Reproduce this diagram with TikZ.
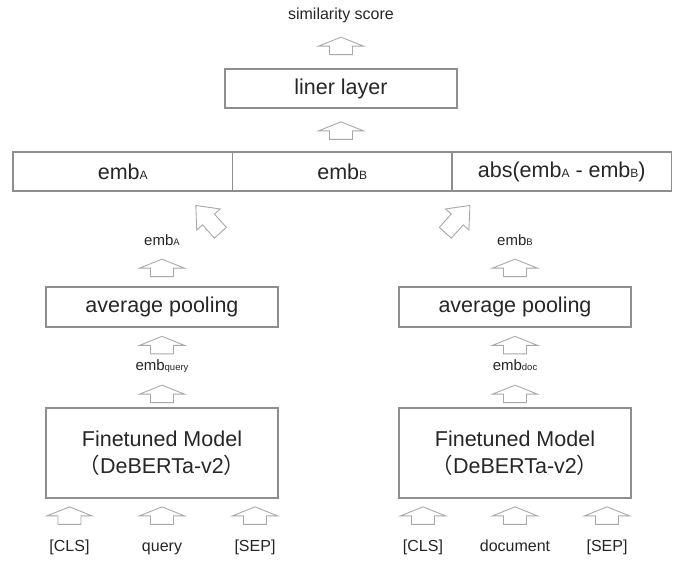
\documentclass[tikz,border=0pt]{standalone}
\usepackage{fontspec}
\setmainfont{Liberation Sans}
\newfontfamily\cjkfont{Noto Sans CJK JP}
\usepackage{tikz}
\usetikzlibrary{calc}
\definecolor{boxgray}{HTML}{8E8E8E}
\definecolor{arrgray}{HTML}{A8A8A8}
\definecolor{txtgray}{HTML}{262626}
\newcommand{\subA}[1]{{\fontsize{12}{12}\selectfont #1}}
\newcommand{\subB}[1]{{\fontsize{9.5}{9.5}\selectfont #1}}
\tikzset{
  box/.style={draw=boxgray, line width=1.2pt, minimum width=232pt, text=txtgray,
    font=\fontsize{21.5}{27}\selectfont, align=center, inner sep=0pt},
  cell/.style={draw=boxgray, line width=1.2pt, minimum width=219.5pt, minimum height=39pt,
    text=txtgray, font=\fontsize{21.5}{25}\selectfont, inner sep=0pt},
  lbl/.style={text=txtgray, font=\fontsize{16}{19}\selectfont, inner sep=0pt, anchor=base},
  emblbl/.style={text=txtgray, font=\fontsize{15}{18}\selectfont, inner sep=0pt, anchor=base},
  arrline/.style={draw=arrgray, line width=0.9pt, fill=white, line join=miter},
  uparr/.pic={\path[arrline] (0,-8.75) -- (22.5,0.25) -- (11.5,0.25) -- (11.5,8.75)
    -- (-11.5,8.75) -- (-11.5,0.25) -- (-22.5,0.25) -- cycle;}
}

\begin{document}
\begin{tikzpicture}[x=1pt, y=-1pt]
\useasboundingbox (0,0) rectangle (680,561);
% top part
\node[lbl] (score) at (341,20) {similarity score};
\node[box, minimum height=39pt] (liner) at (341,88.5) {liner layer};
\node[cell] (cellA) at (122.75,171.5) {emb\subA{A}};
\node[cell] (cellB) at (342.25,171.5) {emb\subA{B}};
\node[cell] (cellD) at (561.75,171.5) {abs(emb\subA{A} - emb\subA{B})};
\pic at ($(liner.north)+(0,-22.5)$) {uparr};
\pic at ($(liner.south)+(0,22)$) {uparr};

% left column (query)
\node[emblbl] (embA) at (162,246) {emb\subB{A}};
\node[box, minimum height=40pt] (poolA) at (162,307) {average pooling};
\node[emblbl] (embq) at (162,370) {emb\subB{query}};
\node[box, minimum height=90pt] (modelA) at (162,453) {Finetuned Model\\{\cjkfont （}DeBERTa-v2{\cjkfont ）}};
\node[lbl] (clsA) at (69.5,551) {[CLS]};
\node[lbl] (qry) at (162,551) {query};
\node[lbl] (sepA) at (255,551) {[SEP]};

% right column (document)
\node[emblbl] (embB) at (515,246) {emb\subB{B}};
\node[box, minimum height=40pt] (poolB) at (515,307) {average pooling};
\node[emblbl] (embd) at (515,370) {emb\subB{doc}};
\node[box, minimum height=90pt] (modelB) at (515,453) {Finetuned Model\\{\cjkfont （}DeBERTa-v2{\cjkfont ）}};
\node[lbl] (clsB) at (423,551) {[CLS]};
\node[lbl] (doc) at (515,551) {document};
\node[lbl] (sepB) at (607,551) {[SEP]};

% block arrows
\pic[rotate=42, xscale=.7, yscale=2.1] at ($(cellA.south east)+(-25,27.5)$) {uparr};
\pic[rotate=-42, xscale=.7, yscale=2.1] at ($(cellB.south east)+(5,27.5)$) {uparr};
\foreach \b in {poolA,poolB}{
  \pic at ($(\b.north)+(0,-18.5)$) {uparr};
  \pic at ($(\b.south)+(0,17.5)$) {uparr};
}
\foreach \b in {modelA,modelB}
  \pic at ($(\b.north)+(0,-13.5)$) {uparr};
\foreach \t in {clsA,qry,sepA}
  \pic at ($(modelA.south -| \t)+(0,17)$) {uparr};
\foreach \t in {clsB,doc,sepB}
  \pic at ($(modelB.south -| \t)+(0,17)$) {uparr};
\end{tikzpicture}
\end{document}
